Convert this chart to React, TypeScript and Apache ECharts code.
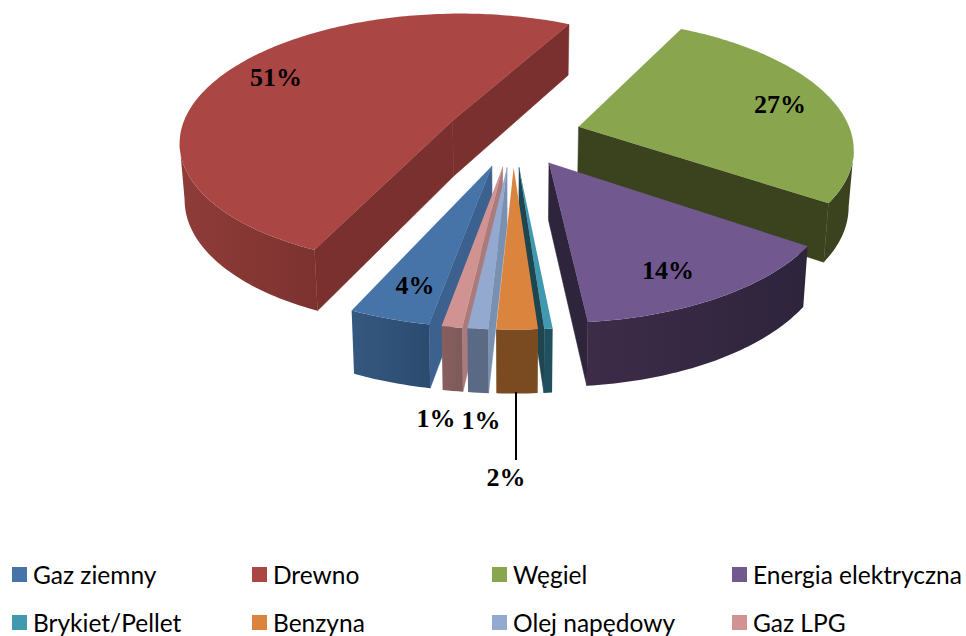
import React, { useEffect, useRef } from "react";
import * as echarts from "echarts";

// Udział nośników energii, kolejność zgodnie z ruchem wskazówek zegara
const categories = ["Gaz ziemny", "Drewno", "Węgiel", "Energia elektryczna", "Brykiet/Pellet", "Benzyna", "Olej napędowy", "Gaz LPG"];
const shares = [4, 51, 27, 14, 0.4, 2, 1, 1];

// Kolory: wierzch, ścianka cięcia, ścianka łuku (dwa końce)
const topColors = ["#4674A8", "#AA4643", "#89A54E", "#71588F", "#4198AF", "#DB843D", "#93A9CF", "#D19392"];
const cutColors = ["#3C618F", "#7A302E", "#3A421E", "#2E243C", "#1D4650", "#6F4420", "#7A90B0", "#AB7A7A"];
const arcLeft = ["#35587F", "#8F3C39", "#3A421E", "#3D2C48", "#20505E", "#7A4A20", "#5A6A85", "#875E5E"];
const arcRight = ["#2C4A70", "#7C322F", "#3A421E", "#2E243C", "#20505E", "#7A4A20", "#5A6A85", "#7E5A5A"];

// Rzut perspektywiczny dysku o promieniu 1
const CX = 513, CY = 134.5, SX = 273, TY = 127, PERSP = 0.149, EXPLODE = 0.25;
const DEPTH = 56, DEPTH_PERSP = 0.1, SHRINK = 0.985;
const START_DEG = 190.2;

const labelPos: Record<number, [number, number]> = {
  0: [415, 285], 1: [276, 77], 2: [780, 104], 3: [668, 270],
  5: [506, 477], 6: [481, 420], 7: [436, 418],
};
const legendCols = [12, 252, 492, 732];
const legendRows = [562, 610];
const paintOrder = [1, 2, 3, 0, 7, 6, 4, 5];

const total = shares.reduce((s, v) => s + v, 0);
const rad = (d: number) => (d * Math.PI) / 180;

function project(a: number, b: number) {
  const w = 1 - PERSP * b;
  return { x: CX + (SX * a) / w, y: CY + (TY * b) / w, d: DEPTH / (1 - DEPTH_PERSP * b) };
}
const lower = (p: { x: number; y: number; d: number }) => [CX + (p.x - CX) * SHRINK, p.y + p.d];
const upper = (p: { x: number; y: number }) => [p.x, p.y];

function sliceGeometry(index: number, value: number) {
  const before = shares.slice(0, index).reduce((s, v) => s + v, 0);
  const from = (START_DEG + (before / total) * 360) % 360;
  const sweep = (value / total) * 360;
  const mid = from + sweep / 2;
  const oa = EXPLODE * Math.sin(rad(mid));
  const ob = -EXPLODE * Math.cos(rad(mid));
  const at = (deg: number, r: number) => project(oa + r * Math.sin(rad(deg)), ob - r * Math.cos(rad(deg)));
  const steps = Math.max(2, Math.ceil(sweep));
  const arc = Array.from({ length: steps + 1 }, (_, i) => from + (sweep * i) / steps);
  return { from, sweep, at, arc };
}

// Kąty, przy których rzut okręgu osiąga skrajne położenia w poziomie
function silhouette(at: (deg: number, r: number) => { x: number }) {
  let right = 90, left = 270;
  for (let d = 60; d <= 120; d += 0.25) if (at(d, 1).x > at(right, 1).x) right = d;
  for (let d = 240; d <= 300; d += 0.25) if (at(d, 1).x < at(left, 1).x) left = d;
  return { right, left };
}

function renderSlice(index: number) {
  return (_params: unknown, api: { value: (i: number) => number }) => {
    const value = api.value(0);
    const { from, sweep, at, arc } = sliceGeometry(index, value);
    const apex = at(0, 0);
    const inner = at(from + sweep / 2, 0.6);
    const children: object[] = [];

    // Ścianki cięcia widoczne tylko, gdy wierzch kawałka leży powyżej krawędzi
    [from, from + sweep].forEach((deg) => {
      const q = at(deg, 1);
      let dx = q.x - apex.x, dy = q.y - apex.y;
      if (dx < 0) { dx = -dx; dy = -dy; }
      const cross = dx * (inner.y - apex.y) - dy * (inner.x - apex.x);
      if (cross < 0) {
        children.push({
          type: "polygon",
          shape: { points: [upper(apex), upper(q), lower(q), lower(apex)] },
          style: { fill: cutColors[index], stroke: cutColors[index], lineWidth: 0.5 },
        });
      }
    });

    // Zewnętrzna ścianka łuku, od skrajnego punktu do skrajnego punktu
    const { right, left } = silhouette(at);
    const lo = Math.max(from, right);
    const hi = Math.min(from + sweep, left);
    if (hi > lo) {
      const front = [lo, ...arc.filter((d) => d > lo && d < hi), hi];
      const tops = front.map((d) => upper(at(d, 1)));
      const bottoms = front.map((d) => lower(at(d, 1))).reverse();
      children.push({
        type: "polygon",
        shape: { points: [...tops, ...bottoms] },
        style: {
          fill: {
            type: "linear", x: 0, y: 0, x2: 1, y2: 0,
            colorStops: [{ offset: 0, color: arcLeft[index] }, { offset: 1, color: arcRight[index] }],
          },
        },
      });
    }

    // Wierzch kawałka
    children.push({
      type: "polygon",
      shape: { points: [upper(apex), ...arc.map((d) => upper(at(d, 1)))] },
      style: { fill: topColors[index] },
    });

    if (categories[index] === "Benzyna") {
      children.push({ type: "line", shape: { x1: 516, y1: 392, x2: 516, y2: 460 }, style: { stroke: "#000", lineWidth: 2 } });
    }
    if (labelPos[index]) {
      children.push({
        type: "text",
        x: labelPos[index][0],
        y: labelPos[index][1],
        style: {
          text: `${Math.round(value)}%`,
          fontFamily: "Liberation Serif",
          fontWeight: "bold",
          fontSize: 26,
          fill: "#000",
          textAlign: "center",
          textVerticalAlign: "middle",
        },
      });
    }
    return { type: "group", children };
  };
}

export default function App() {
  const ref = useRef<HTMLDivElement>(null);
  useEffect(() => {
    const chart = echarts.init(ref.current!, null, { renderer: "svg" });
    chart.setOption({
      animation: false,
      backgroundColor: "#fff",
      legend: categories.map((name, i) => ({
        data: [name],
        left: legendCols[i % 4],
        top: legendRows[Math.floor(i / 4)],
        padding: 0,
        icon: "rect",
        itemWidth: 15,
        itemHeight: 15,
        itemGap: 6,
        selectedMode: false,
        textStyle: { fontFamily: "Lato", fontSize: 24.5, color: "#000", padding: [0, 0, 0, 1] },
      })),
      series: categories.map((name, i) => ({
        type: "custom",
        name,
        coordinateSystem: "none",
        silent: true,
        clip: false,
        z: 2 + paintOrder.indexOf(i),
        itemStyle: { color: topColors[i] },
        data: [[shares[i]]],
        renderItem: renderSlice(i),
      })),
    });
    return () => chart.dispose();
  }, []);
  return <div ref={ref} style={{ position: "fixed", left: 0, top: 0, width: 966, height: 636 }} />;
}
